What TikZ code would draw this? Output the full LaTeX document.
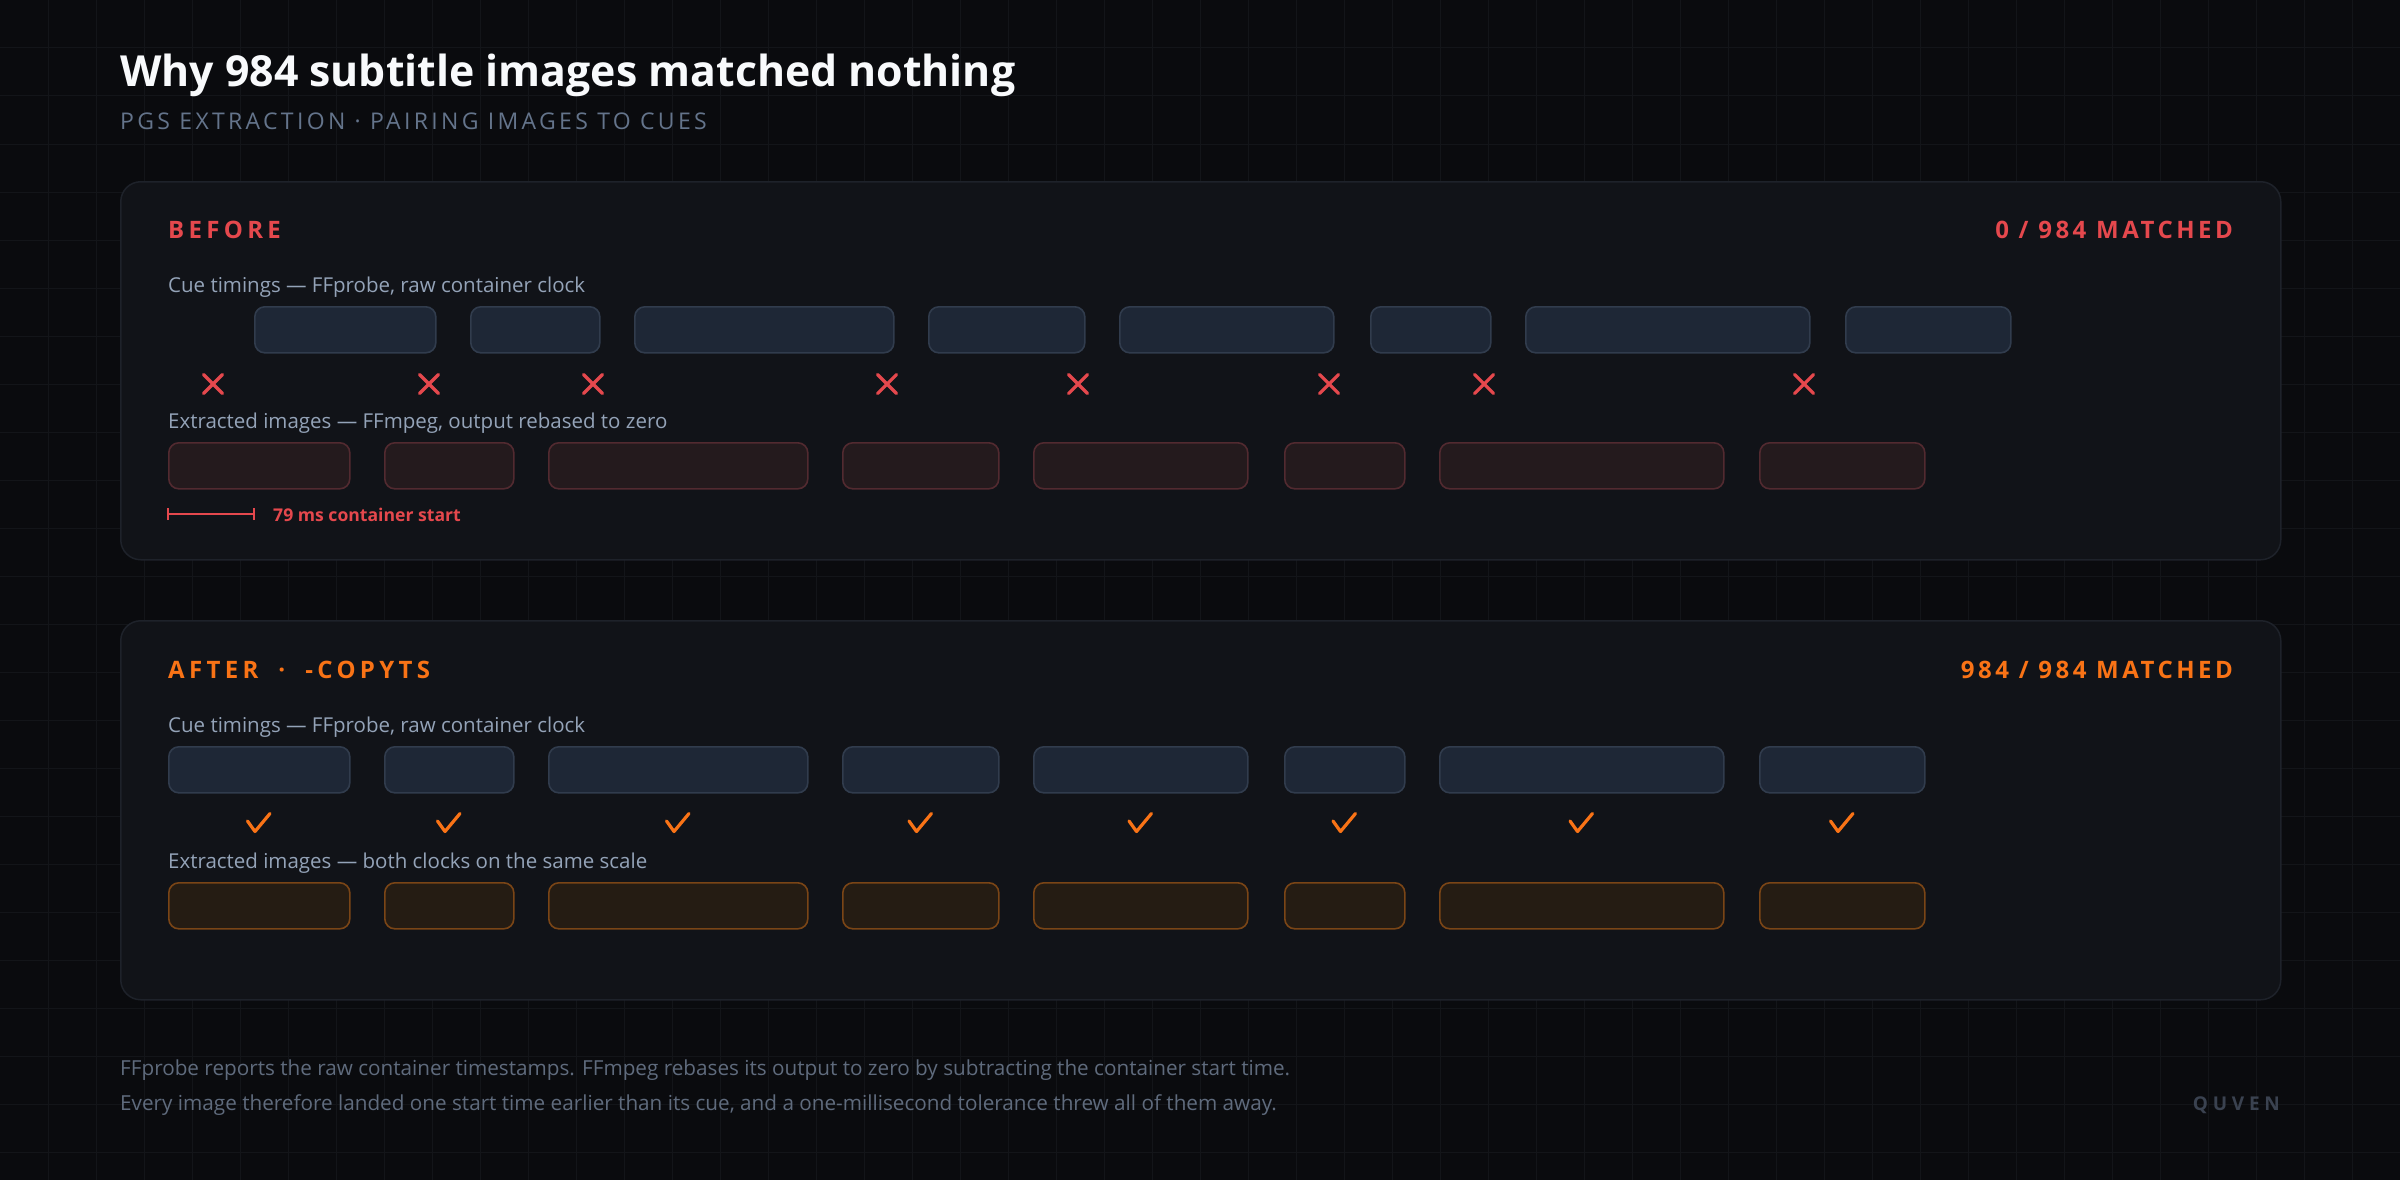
\documentclass[tikz,border=0pt]{standalone}
\usepackage{fontspec}
\setmainfont{Open Sans}
\newfontfamily\capsfont[LetterSpace=18]{Open Sans}
\newfontfamily\capsfontb[LetterSpace=14.5]{Open Sans}
\newfontfamily\subfont[LetterSpace=14.5]{Open Sans}
\newfontfamily\brandfont[LetterSpace=25]{Open Sans}
\definecolor{bgc}{HTML}{0A0B0E}
\definecolor{gridc}{HTML}{131519}
\definecolor{panelfill}{HTML}{111318}
\definecolor{panelborder}{HTML}{1E222A}
\definecolor{cuefill}{HTML}{1E2736}
\definecolor{cueborder}{HTML}{313C4D}
\definecolor{badfill}{HTML}{241A1D}
\definecolor{badborder}{HTML}{522A30}
\definecolor{goodfill}{HTML}{251C13}
\definecolor{goodborder}{HTML}{7A4516}
\definecolor{redc}{HTML}{E5484D}
\definecolor{orangec}{HTML}{F97316}
\definecolor{titlec}{HTML}{F8FAFC}
\definecolor{subc}{HTML}{64748B}
\definecolor{labelc}{HTML}{94A3B8}
\definecolor{footc}{HTML}{5F6B7D}
\definecolor{brandc}{HTML}{3A4250}
\tikzset{
  panel/.style={draw=panelborder, fill=panelfill, line width=1.5pt, rounded corners=20pt, inner sep=0pt, anchor=north west},
  cuebox/.style={draw=cueborder, fill=cuefill, line width=1.6pt, rounded corners=10pt, inner sep=0pt, minimum height=46pt, anchor=north west},
  badbox/.style={cuebox, draw=badborder, fill=badfill},
  goodbox/.style={cuebox, draw=goodborder, fill=goodfill},
  lbl/.style={anchor=base west, inner sep=0pt, text=labelc, font=\fontsize{20.5}{24}\selectfont},
  xmk/.pic={\draw[line width=3.2pt, redc, line cap=round] (-9.5,-9.5)--(9.5,9.5) (-9.5,9.5)--(9.5,-9.5);},
  chk/.pic={\draw[line width=3.2pt, orangec, line cap=round, line join=round] (-11,-2)--(-3.5,8.5)--(11.5,-9.5);}
}
\begin{document}
\begin{tikzpicture}[x=1pt,y=-1pt]
\useasboundingbox (0,0) rectangle (2400,1180);
\fill[bgc] (0,0) rectangle (2400,1180);
\foreach \gx in {48,96,...,2399} \draw[gridc, line width=1pt] (\gx,0) -- (\gx,1180);
\foreach \gy in {48,96,...,1179} \draw[gridc, line width=1pt] (0,\gy) -- (2400,\gy);

% title
\node[anchor=base west, inner sep=0pt, text=titlec, font=\fontsize{42.8}{50}\selectfont\bfseries] (title) at (120,87) {Why 984 subtitle images matched nothing};
\node[anchor=base west, inner sep=0pt, text=subc, font=\subfont\fontsize{23}{27}\selectfont] (subtitle) at (120,129) {PGS EXTRACTION · PAIRING IMAGES TO CUES};

% panels
\node[panel, minimum width=2160pt, minimum height=378pt] (p1) at (120,181) {};
\node[panel, minimum width=2160pt, minimum height=379pt] (p2) at (120,620) {};

% before panel
\node[anchor=base west, inner sep=0pt, text=redc, font=\capsfont\fontsize{24}{28}\selectfont\bfseries] (beforeh) at (168,238) {BEFORE};
\node[anchor=base east, inner sep=0pt, text=redc, font=\capsfontb\fontsize{24}{28}\selectfont\bfseries] (beforem) at (2233,238) {0 / 984 MATCHED};
\node[lbl] (bl1) at (168,292) {Cue timings — FFprobe, raw container clock};
\node[lbl] (bl2) at (168,428) {Extracted images — FFmpeg, output rebased to zero};

% after panel
\node[anchor=base west, inner sep=0pt, text=orangec, font=\capsfont\fontsize{24}{28}\selectfont\bfseries] (afterh) at (168,678) {AFTER \hspace{9.5pt}· \hspace{9.5pt}-COPYTS};
\node[anchor=base east, inner sep=0pt, text=orangec, font=\capsfontb\fontsize{24}{28}\selectfont\bfseries] (afterm) at (2233,678) {984 / 984 MATCHED};
\node[lbl] (al1) at (168,732) {Cue timings — FFprobe, raw container clock};
\node[lbl] (al2) at (168,868) {Extracted images — both clocks on the same scale};

\foreach \i/\s/\w in {1/168/181, 2/384/129, 3/548/259, 4/842/156, 5/1033/214, 6/1284/120, 7/1439/284, 8/1759/165}{
  \node[cuebox, minimum width=\w pt] (bc\i) at (\s+86,306) {};
  \node[badbox, minimum width=\w pt] (bi\i) at (\s,442) {};
  \pic at (\s+45,384) {xmk};
  \node[cuebox, minimum width=\w pt] (ac\i) at (\s,746) {};
  \node[goodbox, minimum width=\w pt] (ai\i) at (\s,882) {};
  \pic at (\s+\w/2,823) {chk};
}

% offset bar
\coordinate (ms0) at (bi1.north west |- 0,514);
\coordinate (ms1) at (bc1.north west |- 0,514);
\draw[redc, line width=2pt] (ms0) -- (ms1);
\draw[redc, line width=2pt] ([yshift=-6pt]ms0) -- ([yshift=6pt]ms0);
\draw[redc, line width=2pt] ([yshift=-6pt]ms1) -- ([yshift=6pt]ms1);
\node[anchor=base west, inner sep=0pt, text=redc, font=\fontsize{17.6}{21}\selectfont\bfseries] (mslbl) at (273,521) {79 ms container start};

% footer
\node[anchor=base west, inner sep=0pt, text=footc, font=\fontsize{20.7}{24}\selectfont] (f1) at (120,1075) {FFprobe reports the raw container timestamps. FFmpeg rebases its output to zero by subtracting the container start time.};
\node[anchor=base west, inner sep=0pt, text=footc, font=\fontsize{20.7}{24}\selectfont] (f2) at (120,1110) {Every image therefore landed one start time earlier than its cue, and a one-millisecond tolerance threw all of them away.};
\node[anchor=base east, inner sep=0pt, text=brandc, font=\brandfont\fontsize{19}{22}\selectfont\bfseries] (brand) at (2280,1110) {QUVEN};
\end{tikzpicture}
\end{document}
